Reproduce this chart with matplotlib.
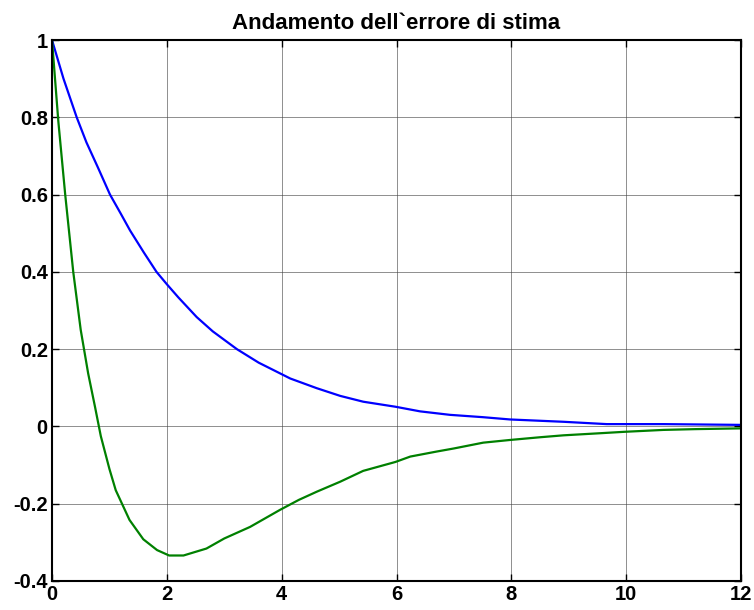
import matplotlib
matplotlib.use("Agg")
import matplotlib.pyplot as plt

# error curves
t_blue = [0, 0.2, 0.43, 0.6, 0.8, 1.01, 1.2, 1.36, 1.6, 1.82, 2.0, 2.2, 2.52,
          2.8, 3.22, 3.6, 4.15, 4.61, 5.02, 5.42, 5.98, 6.41, 6.93, 7.5, 7.98,
          8.91, 9.66, 10.65, 12]
e_blue = [1, 0.90, 0.80, 0.735, 0.67, 0.60, 0.55, 0.507, 0.45, 0.40, 0.368, 0.334,
          0.283, 0.246, 0.20, 0.165, 0.124, 0.099, 0.079, 0.064, 0.051, 0.039,
          0.030, 0.024, 0.018, 0.012, 0.006, 0.006, 0.004]

t_green = [0, 0.11, 0.23, 0.37, 0.5, 0.63, 0.75, 0.85, 1.0, 1.11, 1.35, 1.59,
           1.83, 2.04, 2.29, 2.69, 3.0, 3.45, 3.97, 4.3, 4.61, 5.02, 5.42, 5.98,
           6.24, 6.70, 7.0, 7.51, 7.98, 8.5, 8.91, 9.5, 9.96, 10.65, 11.2, 12]
e_green = [1, 0.79, 0.60, 0.40, 0.25, 0.137, 0.05, -0.025, -0.11, -0.165, -0.242,
           -0.292, -0.32, -0.334, -0.334, -0.316, -0.29, -0.26, -0.216, -0.19,
           -0.169, -0.143, -0.115, -0.092, -0.078, -0.065, -0.057, -0.042, -0.035,
           -0.028, -0.023, -0.018, -0.014, -0.009, -0.007, -0.005]

x_ticks = [0, 2, 4, 6, 8, 10, 12]
y_ticks = [-0.4, -0.2, 0, 0.2, 0.4, 0.6, 0.8, 1]
y_labels = ['-0.4', '-0.2', '0', '0.2', '0.4', '0.6', '0.8', '1']

plt.rcParams['font.family'] = ['Liberation Sans', 'DejaVu Sans']
plt.rcParams['font.weight'] = 'bold'

fig = plt.figure(figsize=(7.54, 6.1), dpi=100)
ax = fig.add_axes([52 / 754, 29 / 610, 689 / 754, 541 / 610])

ax.plot(t_blue, e_blue, color=(0, 0, 1), lw=1.6)
ax.plot(t_green, e_green, color=(0, 0.5, 0), lw=1.6)

ax.set_xlim(0, 12)
ax.set_ylim(-0.4, 1)
ax.set_xticks(x_ticks)
ax.set_xticklabels([str(v) for v in x_ticks])
ax.set_yticks(y_ticks)
ax.set_yticklabels(y_labels)
ax.tick_params(direction='in', top=True, right=True, length=5, width=1,
               labelsize=14.5, pad=3)
for lab in ax.get_xticklabels() + ax.get_yticklabels():
    lab.set_fontweight('bold')
ax.grid(True, color='#444444', lw=0.6, alpha=0.7)
for s in ax.spines.values():
    s.set_linewidth(1.5)

ax.set_title('Andamento dell`errore di stima', fontsize=16, fontweight='bold', pad=8)

fig.savefig('out.png', dpi=100)
